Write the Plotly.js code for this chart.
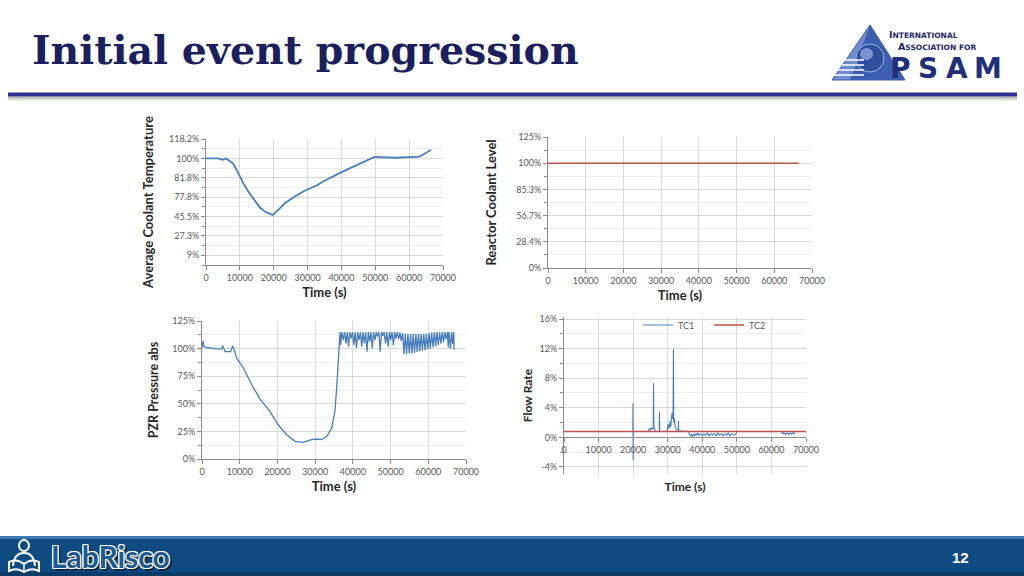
<!DOCTYPE html>
<html>
<head>
<meta charset="utf-8">
<script src="https://cdn.plot.ly/plotly-3.0.1.min.js"></script>
<style>
html,body{margin:0;padding:0;background:#ffffff;}
#chart{width:1024px;height:576px;}
</style>
</head>
<body>
<div id="chart"></div>
<script>
// ---------------- data ----------------
const timeTickVals = [0, 10000, 20000, 30000, 40000, 50000, 60000, 70000];
const timeTickLabels = ['0', '10000', '20000', '30000', '40000', '50000', '60000', '70000'];

// Chart 1: Average Coolant Temperature
const tempTime = [0, 3640, 4900, 5800, 6600, 8060, 9540, 11000, 12500, 14450, 15900, 17400, 19660, 20840,
  23300, 25750, 28700, 32600, 35600, 40500, 45400, 49800, 53300, 56200, 63100, 66500];
const tempValue = [100, 100, 98.7, 100, 98.4, 95, 86.2, 76.8, 69, 60.5, 53.9, 50.1, 47, 50,
  58, 63.3, 69, 74.6, 80, 87.8, 94.7, 101.3, 101, 100.6, 101.6, 108.2];
const tempTickVals = [9.09, 27.27, 45.45, 63.64, 81.82, 100, 118.18];
const tempTickLabels = ['9%', '27.3%', '45.5%', '77.8%', '81.8%', '100%', '118.2%'];

// Chart 2: Reactor Coolant Level
const levelTime = [0, 66500];
const levelValue = [100, 100];
const levelTickVals = [0, 25, 50, 75, 100, 125];
const levelTickLabels = ['0%', '28.4%', '56.7%', '85.3%', '100%', '125%'];

// Chart 3: PZR Pressure abs
const pzrTime = [0, 265, 530, 1240, 3900, 5200, 5480, 5830, 6100, 7600,
  8130, 8490, 9200, 11000, 13200, 15400, 18000, 20200, 22450, 24700,
  26700, 29100, 30400, 31700, 33100, 34400, 35300, 35900, 36400,
  36600, 36750, 37100, 37450, 37800, 38150, 38500, 38850, 39200, 39550,
  39900, 40250, 40600, 40950, 41300, 41650, 42000, 42350, 42700, 43050,
  43400, 43750, 44100, 44450, 44800, 45150, 45500, 45850, 46200, 46550,
  46900, 47250, 47600, 47950, 48300, 48650, 49000, 49350, 49700, 50050,
  50400, 50750, 51100, 51450, 51800, 52150, 52500, 52850, 53200, 53550,
  53900, 54250, 54600, 54950, 55300, 55650, 56000, 56350, 56700, 57050,
  57400, 57750, 58100, 58450, 58800, 59150, 59500, 59850, 60200, 60550,
  60900, 61250, 61600, 61950, 62300, 62650, 63000, 63350, 63700, 64050,
  64400, 64750, 65100, 65300, 65500, 65900, 66200, 66500, 66750, 66850];
const pzrPressure = [100.3, 107, 101.8, 101, 99.7, 99.7, 102.7, 99.7, 97.3, 97.3,
  102.4, 99.4, 91.3, 82.2, 67.2, 54.2, 43.1, 31, 22, 16,
  15.1, 17.5, 18.1, 17.5, 20.5, 28, 44.6, 74.7, 110.8,
  115, 103.3, 115, 107.8, 115, 104.8, 115, 101.7, 115, 109.3,
  115, 103.3, 115, 100.3, 115, 107.8, 115, 101.7, 115, 104.8,
  115, 97.2, 115, 106.3, 115, 100.3, 115, 107.8, 115, 111,
  115, 97.2, 115, 111.5, 115, 104.8, 115, 101.7, 115, 107.8,
  115, 103.3, 115, 109, 115, 108.5, 114.5, 107, 114, 95,
  113.5, 95, 113.5, 95.5, 113.5, 95.5, 113.5, 96, 113.5, 97,
  113.5, 97.5, 113.5, 98, 113.5, 98.5, 113.5, 99.5, 114, 100,
  114.5, 101, 115, 102, 115, 103, 115, 104.5, 115, 106,
  115, 108.5, 115, 101, 115, 100, 115, 104, 115, 99];
const pzrTickVals = [0, 25, 50, 75, 100, 125];
const pzrTickLabels = ['0%', '25%', '50%', '75%', '100%', '125%'];

// Chart 4: Flow Rate
const flowTimeTC1 = [0, 19900, 19950, 20000, 20050, 24500, 24600, 24900, 25200, 25500,
  25800, 25900, 26000, 26200, 26400, 27550, 27600, 27700, 29800, 29900,
  30100, 30300, 30500, 30700, 30900, 31100, 31250, 31400, 31550, 31650,
  31750, 31900, 32100, 32300, 32600, 33050, 33100, 33200, 36000, 36300,
  36600, 36900, 37200, 37500, 37800, 38100, 38400, 38700, 39000, 39500,
  40000, 40500, 41000, 41500, 42000, 42500, 43000, 43500, 44000, 44500,
  45000, 45500, 46000, 46500, 47000, 47500, 48000, 48500, 49000, 49700,
  50000, 63000, 63300, 63700, 64100, 64500, 64900, 65300, 65700, 66100,
  66500, 66800];
const flowTC1 = [0.8, 0.8, 4.6, -3.1, 0.8, 0.8, 1.2, 1.0, 1.3, 1.1,
  1.3, 7.3, 1.2, 1.3, 0.8, 0.8, 3.5, 0.8, 0.8, 1.2,
  1.8, 1.2, 1.5, 2.2, 1.4, 2.8, 3.3, 2.5, 3.0, 11.9,
  2.0, 2.6, 1.5, 1.2, 1.0, 1.0, 2.2, 0.9, 0.8, 0.4,
  0.15, 0.4, 0.1, 0.5, 0.2, 0.5, 0.3, 0.6, 0.3, 0.5,
  0.2, 0.5, 0.3, 0.6, 0.2, 0.5, 0.3, 0.5, 0.2, 0.6,
  0.3, 0.5, 0.2, 0.5, 0.3, 0.6, 0.2, 0.5, 0.3, 0.4,
  0.8, 0.8, 0.5, 0.6, 0.4, 0.6, 0.4, 0.6, 0.45, 0.6,
  0.5, 0.8];
const flowTimeTC2 = [0, 70000];
const flowTC2 = [0.8, 0.8];
const flowTickVals = [-4, 0, 4, 8, 12, 16];
const flowTickLabels = ['-4%', '0%', '4%', '8%', '12%', '16%'];

// ---------------- styling helpers ----------------
const X = p => p / 1024;
const Y = p => 1 - p / 576;
const GRID = '#d9d9d9', MINOR = '#eeeeee', LINE = '#8c8c8c', TICKC = '#595959';
const BLUE = '#4a7ebb', RED = '#c0504d';
const FONT = 'Lato, "Open Sans", sans-serif';

function xAxis(domain, anchor, extra) {
  return Object.assign({
    domain: domain, anchor: anchor, range: [0, 70000],
    tickmode: 'array', tickvals: timeTickVals, ticktext: timeTickLabels,
    showgrid: true, gridcolor: GRID, gridwidth: 1, zeroline: false,
    showline: true, linecolor: LINE, linewidth: 1,
    ticks: 'outside', ticklen: 4, tickcolor: LINE,
    tickfont: {size: 9, color: TICKC, family: FONT},
    title: {text: 'Time (s)', font: {size: 13, color: '#262626', family: FONT, weight: 'bold'}, standoff: 6},
    fixedrange: true
  }, extra || {});
}
function yAxis(domain, anchor, range, vals, labels, minorStep, title, standoff, tsize) {
  return {
    domain: domain, anchor: anchor, range: range,
    tickmode: 'array', tickvals: vals, ticktext: labels,
    showgrid: true, gridcolor: GRID, gridwidth: 1, zeroline: false,
    showline: true, linecolor: LINE, linewidth: 1,
    ticks: 'outside', ticklen: 4, tickcolor: LINE,
    minor: {tickmode: 'linear', tick0: 0, dtick: minorStep, showgrid: true, gridcolor: MINOR,
      ticks: 'outside', ticklen: 3, tickcolor: LINE},
    tickfont: {size: 9, color: TICKC, family: FONT},
    title: {text: title, font: {size: tsize, color: '#262626', family: FONT, weight: 'bold'}, standoff: standoff},
    fixedrange: true
  };
}

const data = [
  {x: tempTime, y: tempValue, xaxis: 'x', yaxis: 'y', type: 'scatter', mode: 'lines',
   line: {color: BLUE, width: 1.8}, showlegend: false, name: 'Average Coolant Temperature'},
  {x: levelTime, y: levelValue, xaxis: 'x2', yaxis: 'y2', type: 'scatter', mode: 'lines',
   line: {color: RED, width: 1.5}, showlegend: false, name: 'Reactor Coolant Level'},
  {x: pzrTime, y: pzrPressure, xaxis: 'x3', yaxis: 'y3', type: 'scatter', mode: 'lines',
   line: {color: BLUE, width: 1.3}, showlegend: false, name: 'PZR Pressure abs'},
  {x: flowTimeTC1, y: flowTC1, xaxis: 'x4', yaxis: 'y4', type: 'scatter', mode: 'lines',
   line: {color: BLUE, width: 1.1}, name: 'TC1'},
  {x: flowTimeTC2, y: flowTC2, xaxis: 'x4', yaxis: 'y4', type: 'scatter', mode: 'lines',
   line: {color: RED, width: 1.6}, name: 'TC2'}
];

const logoFont = {family: '"DejaVu Sans", sans-serif', size: 28, color: '#1f2f7a', weight: 'bold'};

const layout = {
  width: 1024, height: 576,
  margin: {l: 0, r: 0, t: 0, b: 0},
  paper_bgcolor: '#ffffff', plot_bgcolor: 'rgba(0,0,0,0)',
  font: {family: FONT, color: TICKC},
  showlegend: true,
  legend: {x: X(638), y: Y(325), xanchor: 'left', yanchor: 'middle', orientation: 'h',
    font: {size: 9, color: TICKC, family: FONT}, bgcolor: 'rgba(0,0,0,0)',
    entrywidth: 26, entrywidthmode: 'pixels'},

  xaxis: xAxis([X(206), X(443)], 'y'),
  yaxis: yAxis([Y(265), Y(139)], 'x', [0, 118.2], tempTickVals, tempTickLabels, 9.0909,
    'Average Coolant Temperature', 12, 13),

  xaxis2: xAxis([X(548), X(812)], 'y2'),
  yaxis2: yAxis([Y(268), Y(137)], 'x2', [0, 125], levelTickVals, levelTickLabels, 12.5,
    'Reactor Coolant Level', 16, 13),

  xaxis3: xAxis([X(202), X(466)], 'y3'),
  yaxis3: yAxis([Y(459), Y(321)], 'x3', [0, 125], pzrTickVals, pzrTickLabels, 12.5,
    'PZR Pressure abs', 10, 12.5),

  xaxis4: xAxis([X(564), X(806)], 'free', {position: Y(437.4),
    title: {text: 'Time (s)', font: {size: 12, color: '#262626', family: FONT, weight: 'bold'}, standoff: 28}}),
  yaxis4: yAxis([Y(474), Y(317)], 'x4', [-4.95, 16.27], flowTickVals, flowTickLabels, 2,
    'Flow Rate', 4, 12),

  shapes: [
    // title rule with shadow
    {type: 'rect', xref: 'paper', yref: 'paper', x0: X(8), x1: X(1017), y0: Y(96.5), y1: Y(92.5),
     fillcolor: '#2e3190', line: {width: 0}},
    {type: 'rect', xref: 'paper', yref: 'paper', x0: X(8), x1: X(1017), y0: Y(99), y1: Y(96.5),
     fillcolor: 'rgba(110,110,110,0.45)', line: {width: 0}},
    {type: 'rect', xref: 'paper', yref: 'paper', x0: X(8), x1: X(1017), y0: Y(101), y1: Y(99),
     fillcolor: 'rgba(150,150,150,0.2)', line: {width: 0}},
    // footer band
    {type: 'rect', xref: 'paper', yref: 'paper', x0: 0, x1: 1, y0: 0, y1: Y(536),
     fillcolor: '#0f4a80', line: {width: 0}},
    {type: 'rect', xref: 'paper', yref: 'paper', x0: 0, x1: 1, y0: Y(539), y1: Y(536),
     fillcolor: '#3d7ab3', line: {width: 0}},
    {type: 'rect', xref: 'paper', yref: 'paper', x0: 0, x1: 1, y0: 0, y1: Y(572),
     fillcolor: '#0a3a66', line: {width: 0}},
    // LabRisco icon (reader with book)
    {type: 'circle', xref: 'paper', yref: 'paper', x0: X(19), x1: X(29), y0: Y(551), y1: Y(540),
     line: {color: '#ffffff', width: 2}},
    {type: 'path', xref: 'paper', yref: 'paper',
     path: 'M' + X(13) + ',' + Y(566) + ' Q' + X(14) + ',' + Y(553) + ' ' + X(24) + ',' + Y(553) +
           ' Q' + X(34) + ',' + Y(553) + ' ' + X(35) + ',' + Y(566),
     line: {color: '#ffffff', width: 2}},
    {type: 'path', xref: 'paper', yref: 'paper',
     path: 'M' + X(9) + ',' + Y(571) + ' L' + X(9) + ',' + Y(562) + ' Q' + X(17) + ',' + Y(558) + ' ' + X(24) + ',' + Y(564) +
           ' Q' + X(31) + ',' + Y(558) + ' ' + X(39) + ',' + Y(562) + ' L' + X(39) + ',' + Y(571) +
           ' Q' + X(31) + ',' + Y(567) + ' ' + X(24) + ',' + Y(572) + ' Q' + X(17) + ',' + Y(567) + ' ' + X(9) + ',' + Y(571) + ' Z',
     line: {color: '#ffffff', width: 2}},
    {type: 'line', xref: 'paper', yref: 'paper', x0: X(24), x1: X(24), y0: Y(564), y1: Y(572),
     line: {color: '#ffffff', width: 1.5}},
    // IAPSAM logo: triangle
    {type: 'path', xref: 'paper', yref: 'paper',
     path: 'M' + X(870) + ',' + Y(25) + ' L' + X(832) + ',' + Y(80) + ' L' + X(905) + ',' + Y(80) + ' Z',
     fillcolor: '#6d8bd0', line: {color: '#3f5fae', width: 1}},
    {type: 'path', xref: 'paper', yref: 'paper',
     path: 'M' + X(870) + ',' + Y(25) + ' L' + X(850) + ',' + Y(80) + ' L' + X(905) + ',' + Y(80) + ' Z',
     fillcolor: '#3d5eb0', line: {width: 0}},
    // sphere
    {type: 'circle', xref: 'paper', yref: 'paper', x0: X(856), x1: X(884), y0: Y(72), y1: Y(44),
     fillcolor: '#2f4f9e', line: {color: '#9fb4e4', width: 1}},
    {type: 'circle', xref: 'paper', yref: 'paper', x0: X(860), x1: X(873), y0: Y(60), y1: Y(48),
     fillcolor: '#8ea6de', line: {width: 0}, opacity: 0.8},
    // speed stripes
    {type: 'line', xref: 'paper', yref: 'paper', x0: X(833), x1: X(864), y0: Y(60), y1: Y(60), line: {color: '#ffffff', width: 1.5}},
    {type: 'line', xref: 'paper', yref: 'paper', x0: X(833), x1: X(864), y0: Y(65), y1: Y(65), line: {color: '#ffffff', width: 1.5}},
    {type: 'line', xref: 'paper', yref: 'paper', x0: X(833), x1: X(864), y0: Y(70), y1: Y(70), line: {color: '#ffffff', width: 1.5}},
    {type: 'line', xref: 'paper', yref: 'paper', x0: X(833), x1: X(864), y0: Y(75), y1: Y(75), line: {color: '#ffffff', width: 1.5}}
  ],

  annotations: [
    {text: 'Initial event progression', xref: 'paper', yref: 'paper', x: X(30), y: Y(50),
     xanchor: 'left', yanchor: 'middle', showarrow: false,
     font: {family: '"DejaVu Serif", serif', size: 39.5, color: '#1b1f5e', weight: 'bold'}},
    {text: 'I<span style="font-size:7.5px">NTERNATIONAL</span>', xref: 'paper', yref: 'paper', x: X(887), y: Y(34),
     xanchor: 'left', yanchor: 'middle', showarrow: false,
     font: {family: '"DejaVu Sans", sans-serif', size: 9.5, color: '#1c2768', weight: 'bold'}},
    {text: 'A<span style="font-size:7.5px">SSOCIATION FOR</span>', xref: 'paper', yref: 'paper', x: X(896), y: Y(46),
     xanchor: 'left', yanchor: 'middle', showarrow: false,
     font: {family: '"DejaVu Sans", sans-serif', size: 9.5, color: '#1c2768', weight: 'bold'}},
    {text: 'P', xref: 'paper', yref: 'paper', x: X(900), y: Y(68), xanchor: 'center', yanchor: 'middle', showarrow: false, font: logoFont},
    {text: 'S', xref: 'paper', yref: 'paper', x: X(928), y: Y(68), xanchor: 'center', yanchor: 'middle', showarrow: false, font: logoFont},
    {text: 'A', xref: 'paper', yref: 'paper', x: X(957), y: Y(68), xanchor: 'center', yanchor: 'middle', showarrow: false, font: logoFont},
    {text: 'M', xref: 'paper', yref: 'paper', x: X(988), y: Y(68), xanchor: 'center', yanchor: 'middle', showarrow: false, font: logoFont},
    {text: 'LabRisco', xref: 'paper', yref: 'paper', x: X(49), y: Y(556),
     xanchor: 'left', yanchor: 'middle', showarrow: false,
     font: {family: 'Lato, sans-serif', size: 30, color: '#1d5a92', weight: 'bold',
       shadow: '1px 0 0 #fff, -1px 0 0 #fff, 0 1px 0 #fff, 0 -1px 0 #fff, 1px 1px 0 #fff, -1px -1px 0 #fff, 1px -1px 0 #fff, -1px 1px 0 #fff, 2px 2px 2px #000'}},
    {text: '12', xref: 'paper', yref: 'paper', x: X(960), y: Y(557),
     xanchor: 'center', yanchor: 'middle', showarrow: false,
     font: {family: '"Liberation Sans Narrow", "Liberation Sans", sans-serif', size: 15, color: '#ffffff', weight: 'bold'}}
  ]
};

Plotly.newPlot('chart', data, layout, {staticPlot: true, displayModeBar: false});
</script>
</body>
</html>
